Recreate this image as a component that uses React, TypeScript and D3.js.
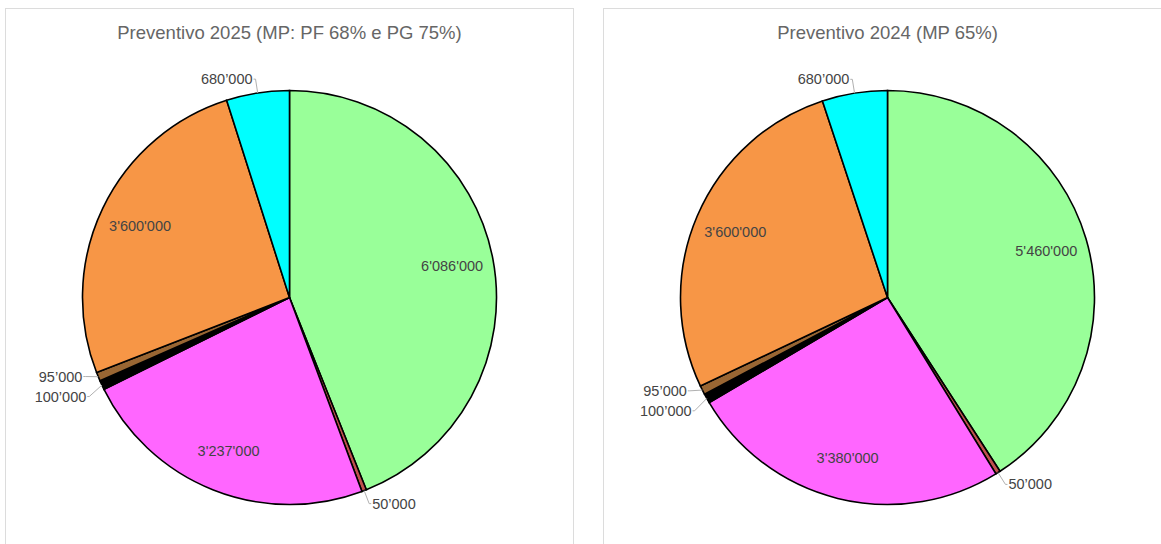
import * as d3 from 'd3';

const categories = ['A', 'B', 'C', 'D', 'E', 'F', 'G'];
const colors = ['#99ff99', '#c0504d', '#ff66ff', '#000000', '#996633', '#f79646', '#00ffff'];
const values2025 = [6086000, 50000, 3237000, 100000, 95000, 3600000, 680000];
const values2024 = [5460000, 50000, 3380000, 100000, 95000, 3600000, 680000];
const title2025 = 'Preventivo 2025 (MP: PF 68% e PG 75%)';
const title2024 = 'Preventivo 2024 (MP 65%)';

const W = 1161,
    H = 544;
const PANEL_W = 568;
const RADIUS = 207;
const FONT = 'Liberation Sans, Arial, sans-serif';

const fmtIn = (v: number) => d3.format(',')(v).replace(/,/g, "'");
const fmtOut = (v: number) => d3.format(',')(v).replace(/,/g, '’');

type Slice = d3.PieArcDatum<number>;

function PiePanel({ x, title, values }: { x: number; title: string; values: number[] }) {
    const cx = PANEL_W / 2;
    const cy = 289;
    const total = d3.sum(values);
    const pie = d3.pie<number>().sort(null).value((d) => d);
    const arcs = pie(values);
    const arc = d3.arc<Slice>().innerRadius(0).outerRadius(RADIUS);

    const mid = (a: Slice) => (a.startAngle + a.endAngle) / 2;

    // small slices get their label outside, nudged apart vertically
    const outside = arcs
        .filter((a) => a.value / total < 0.06)
        .map((a) => {
            const m = mid(a);
            const lr = RADIUS + 14;
            return {
                a,
                m,
                side: Math.sin(m) >= 0 ? 1 : -1,
                px: Math.sin(m) * RADIUS,
                py: -Math.cos(m) * RADIUS,
                lx: Math.sin(m) * lr,
                ly: -Math.cos(m) * lr,
            };
        });
    [-1, 1].forEach((side) => {
        const group = outside.filter((o) => o.side === side).sort((p, q) => p.ly - q.ly);
        for (let iter = 0; iter < 10; iter++) {
            for (let i = 1; i < group.length; i++) {
                const gap = group[i].ly - group[i - 1].ly;
                if (gap < 20) {
                    const push = (20 - gap) / 2;
                    group[i].ly += push;
                    group[i - 1].ly -= push;
                }
            }
        }
    });

    return (
        <g transform={`translate(${x},8.5)`}>
            <rect x={0} y={0} width={PANEL_W} height={H + 20} fill="#fff" stroke="#dcdcdc" />
            <text
                x={cx}
                y={24}
                textAnchor="middle"
                dominantBaseline="central"
                fontFamily={FONT}
                fontSize={18.5}
                fill="#666"
            >
                {title}
            </text>
            <g transform={`translate(${cx},${cy})`}>
                {arcs.map((a, i) => (
                    <path key={categories[i]} d={arc(a) || ''} fill={colors[i]} stroke="#000" strokeWidth={1.6} />
                ))}
                {arcs
                    .filter((a) => a.value / total >= 0.06)
                    .map((a) => {
                        const m = mid(a);
                        const r = RADIUS * 0.8;
                        return (
                            <text
                                key={a.index}
                                x={Math.sin(m) * r}
                                y={-Math.cos(m) * r}
                                textAnchor="middle"
                                dominantBaseline="central"
                                fontFamily={FONT}
                                fontSize={14.5}
                                fill="#444"
                            >
                                {fmtIn(a.value)}
                            </text>
                        );
                    })}
                {outside.map((o) => (
                    <g key={o.a.index}>
                        <polyline
                            points={`${o.px},${o.py} ${o.lx},${o.ly} ${o.lx + o.side * 2},${o.ly}`}
                            fill="none"
                            stroke="#b0b0b0"
                            strokeWidth={1}
                        />
                        <text
                            x={o.lx + o.side * 3}
                            y={o.ly}
                            textAnchor={o.side > 0 ? 'start' : 'end'}
                            dominantBaseline="central"
                            fontFamily={FONT}
                            fontSize={14.5}
                            fill="#444"
                        >
                            {fmtOut(o.a.value)}
                        </text>
                    </g>
                ))}
            </g>
        </g>
    );
}

export default function App() {
    return (
        <div style={{ position: 'absolute', left: 0, top: 0 }}>
            <svg width={W} height={H} style={{ display: 'block' }}>
                <rect width={W} height={H} fill="#fff" />
                <PiePanel x={5.5} title={title2025} values={values2025} />
                <PiePanel x={603.5} title={title2024} values={values2024} />
            </svg>
        </div>
    );
}
